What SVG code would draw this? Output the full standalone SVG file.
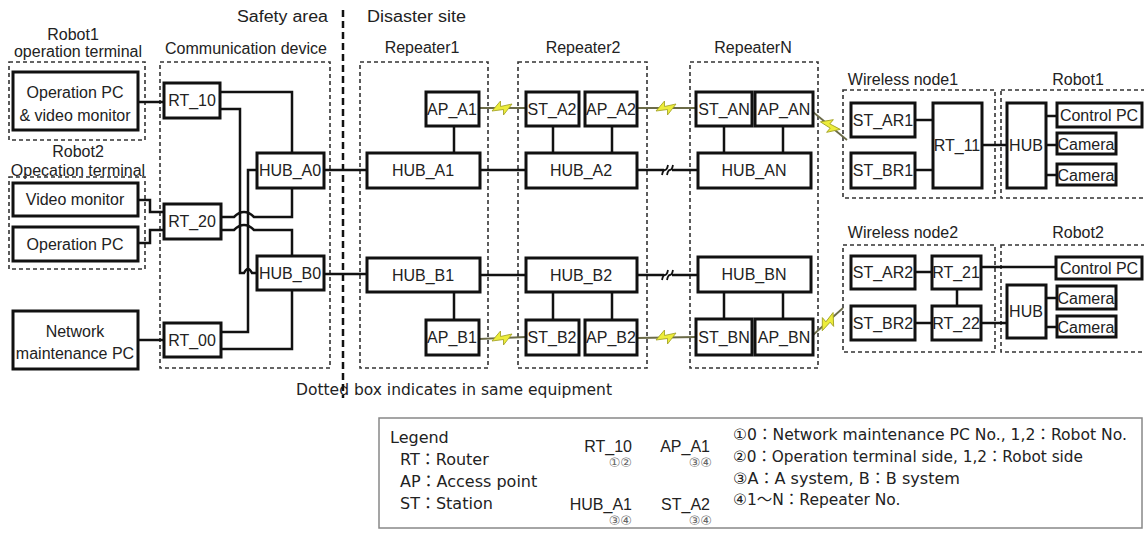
<svg xmlns="http://www.w3.org/2000/svg" xmlns:xlink="http://www.w3.org/1999/xlink" width="1144" height="533" viewBox="0 0 1144 533">
<style>
.box{fill:#fff;stroke:#111;stroke-width:3}
.dot{fill:none;stroke:#333;stroke-width:1.6;stroke-dasharray:4 3}
.w{fill:none;stroke:#111;stroke-width:2.5}
.rf{fill:none;stroke:#6b6b48;stroke-width:1.8}
.t{font-family:"Liberation Sans","Noto Sans CJK JP",sans-serif;font-size:16px;fill:#222}
.d{font-family:"DejaVu Sans","Noto Sans CJK JP",sans-serif;font-size:15.5px;fill:#222}
.c{text-anchor:middle}
.s{font-family:"DejaVu Sans","Noto Sans CJK JP",sans-serif;font-size:13px;fill:#666}
</style>
<defs>
<g id="bolt"><polygon points="-10,3 -1.5,-7 -1.5,-1.5 10,-4 1.5,7 1.5,1.5" fill="#eded3a" stroke="#a6a628" stroke-width="0.9"/></g>
<g id="brk"><rect x="-4" y="-7" width="8" height="14" fill="#fff"/><path d="M-6,5 Q-5,0 -3,0 Q-1,0 0,-5 M-1,5 Q0,0 2,0 Q4,0 5,-5" fill="none" stroke="#111" stroke-width="1.8"/></g>
</defs>
<rect width="1144" height="533" fill="#fff"/>

<!-- area labels -->
<g id="labels" class="t">
<text x="237" y="22" textLength="91" lengthAdjust="spacingAndGlyphs">Safety area</text>
<text x="367" y="22" textLength="99" lengthAdjust="spacingAndGlyphs">Disaster site</text>
<text x="73" y="40" class="c">Robot1</text>
<text x="78" y="57" class="c">operation terminal</text>
<text x="78" y="157" class="c">Robot2</text>
<text x="78" y="176" class="c">Opecation terminal</text>
<text x="246" y="54" class="c">Communication device</text>
<text x="422" y="53" class="c">Repeater1</text>
<text x="583" y="53" class="c">Repeater2</text>
<text x="753" y="53" class="c">RepeaterN</text>
<text x="903" y="85" class="c">Wireless node1</text>
<text x="1078" y="85" class="c">Robot1</text>
<text x="903" y="238" class="c">Wireless node2</text>
<text x="1078" y="238" class="c">Robot2</text>
</g>
<text id="note" class="d" x="296" y="395" textLength="316" lengthAdjust="spacingAndGlyphs">Dotted box indicates in same equipment</text>

<!-- dotted equipment boxes -->
<g id="equipment">
<rect class="dot" x="9" y="62" width="136" height="78"/>
<rect class="dot" x="9" y="177" width="136" height="92"/>
<rect class="dot" x="160" y="62" width="170" height="306"/>
<rect class="dot" x="360" y="62" width="128" height="306"/>
<rect class="dot" x="518" y="62" width="129" height="306"/>
<rect class="dot" x="690" y="62" width="128" height="306"/>
<rect class="dot" x="843" y="90" width="152" height="108"/>
<rect class="dot" x="1001" y="90" width="150" height="108"/>
<rect class="dot" x="843" y="245" width="152" height="107"/>
<rect class="dot" x="1001" y="245" width="150" height="107"/>
<line x1="343" y1="10" x2="343" y2="398" stroke="#111" stroke-width="2.5" stroke-dasharray="7 4"/>
</g>

<!-- connectors -->
<g id="connectors">
<path class="w" d="M138,102 H164"/>
<path class="w" d="M220,92 H292 V153"/>
<path class="w" d="M220,109 H240 V273 H244 Q248,265 252,273 H257"/>
<path class="w" d="M257,170 H248 V332 H221"/>
<path class="w" d="M292,188 V217 H254 Q244,207 234,217 H221"/>
<path class="w" d="M221,230 H234 Q244,220 254,230 H292 V256"/>
<path class="w" d="M292,290 V349 H221"/>
<path class="w" d="M138,340 H164"/>
<path class="w" d="M138,200 H150 V212 H164"/>
<path class="w" d="M138,243 H150 V230 H164"/>
<path class="w" d="M324,170 H367"/>
<path class="w" d="M324,274 H367"/>
<path class="w" d="M480,170 H526"/>
<path class="w" d="M480,275 H526"/>
<path class="w" d="M637,170 H698"/>
<path class="w" d="M637,275 H698"/>
<path class="w" d="M454,126 V153 M553,126 V153 M612,126 V153 M724,126 V153 M783,126 V153"/>
<path class="w" d="M454,292 V320 M553,292 V320 M612,292 V320 M724,292 V319 M783,292 V319"/>
<path class="w" d="M915,120 H933 M915,170 H933 M982,145 H1007 M1046,116 H1057 M1046,145 H1057 M1046,175 H1057"/>
<path class="w" d="M915,272 H932 M915,323 H932 M957,289 V306 M981,267 H1056 M981,323 H1007 M1046,298 H1057 M1046,327 H1057"/>
<use xlink:href="#brk" transform="translate(668,170)"/>
<use xlink:href="#brk" transform="translate(668,275)"/>
<path class="rf" d="M479,108 H526"/>
<path class="rf" d="M637,108 H696"/>
<path class="rf" d="M813,112 L847,140"/>
<path class="rf" d="M479,339 L526,337"/>
<path class="rf" d="M637,338 L696,337"/>
<path class="rf" d="M813,335 L843,308"/>
<use xlink:href="#bolt" transform="translate(502,108)"/>
<use xlink:href="#bolt" transform="translate(666,108)"/>
<use xlink:href="#bolt" transform="translate(830,126) rotate(40)"/>
<use xlink:href="#bolt" transform="translate(502,338)"/>
<use xlink:href="#bolt" transform="translate(666,337)"/>
<use xlink:href="#bolt" transform="translate(828,322) rotate(-40)"/>
</g>

<!-- nodes -->
<g id="opPC1"><rect class="box" x="13" y="72" width="125" height="58"/><text class="t c" x="75" y="98">Operation PC</text><text class="t c" x="75" y="121">&amp; video monitor</text></g>
<g id="videoMonitor"><rect class="box" x="13" y="183" width="125" height="33"/><text class="t c" x="75" y="205">Video monitor</text></g>
<g id="opPC2"><rect class="box" x="13" y="227" width="125" height="34"/><text class="t c" x="75" y="250">Operation PC</text></g>
<g id="netPC"><rect class="box" x="13" y="311" width="125" height="58"/><text class="t c" x="75" y="337">Network</text><text class="t c" x="75" y="359">maintenance PC</text></g>
<g id="RT_10"><rect class="box" x="164" y="83" width="56" height="35"/><text class="t c" x="192" y="106">RT_10</text></g>
<g id="RT_20"><rect class="box" x="164" y="204" width="57" height="35"/><text class="t c" x="192" y="227">RT_20</text></g>
<g id="RT_00"><rect class="box" x="164" y="323" width="57" height="34"/><text class="t c" x="192" y="346">RT_00</text></g>
<g id="HUB_A0"><rect class="box" x="257" y="153" width="67" height="35"/><text class="t c" x="290" y="176">HUB_A0</text></g>
<g id="HUB_B0"><rect class="box" x="257" y="256" width="67" height="34"/><text class="t c" x="290" y="279">HUB_B0</text></g>
<g id="AP_A1"><rect class="box" x="426" y="92" width="53" height="34"/><text class="t c" x="452" y="115">AP_A1</text></g>
<g id="HUB_A1"><rect class="box" x="367" y="153" width="113" height="35"/><text class="t c" x="423" y="176">HUB_A1</text></g>
<g id="ST_A2"><rect class="box" x="526" y="92" width="53" height="34"/><text class="t c" x="552" y="115">ST_A2</text></g>
<g id="AP_A2"><rect class="box" x="585" y="92" width="52" height="34"/><text class="t c" x="611" y="115">AP_A2</text></g>
<g id="HUB_A2"><rect class="box" x="526" y="153" width="111" height="35"/><text class="t c" x="581" y="176">HUB_A2</text></g>
<g id="ST_AN"><rect class="box" x="696" y="92" width="56" height="34"/><text class="t c" x="724" y="115">ST_AN</text></g>
<g id="AP_AN"><rect class="box" x="755" y="92" width="58" height="34"/><text class="t c" x="784" y="115">AP_AN</text></g>
<g id="HUB_AN"><rect class="box" x="698" y="153" width="113" height="35"/><text class="t c" x="754" y="176">HUB_AN</text></g>
<g id="HUB_B1"><rect class="box" x="367" y="258" width="113" height="34"/><text class="t c" x="423" y="281">HUB_B1</text></g>
<g id="AP_B1"><rect class="box" x="426" y="320" width="53" height="35"/><text class="t c" x="452" y="343">AP_B1</text></g>
<g id="HUB_B2"><rect class="box" x="526" y="258" width="111" height="34"/><text class="t c" x="581" y="281">HUB_B2</text></g>
<g id="ST_B2"><rect class="box" x="526" y="320" width="53" height="35"/><text class="t c" x="552" y="343">ST_B2</text></g>
<g id="AP_B2"><rect class="box" x="585" y="320" width="52" height="35"/><text class="t c" x="611" y="343">AP_B2</text></g>
<g id="HUB_BN"><rect class="box" x="698" y="257" width="113" height="35"/><text class="t c" x="754" y="280">HUB_BN</text></g>
<g id="ST_BN"><rect class="box" x="696" y="319" width="56" height="36"/><text class="t c" x="724" y="343">ST_BN</text></g>
<g id="AP_BN"><rect class="box" x="755" y="319" width="58" height="36"/><text class="t c" x="784" y="343">AP_BN</text></g>
<g id="ST_AR1"><rect class="box" x="851" y="103" width="64" height="34"/><text class="t c" x="883" y="126">ST_AR1</text></g>
<g id="ST_BR1"><rect class="box" x="851" y="153" width="64" height="35"/><text class="t c" x="883" y="176">ST_BR1</text></g>
<g id="RT_11"><rect class="box" x="933" y="103" width="49" height="85"/><text class="t c" x="957" y="151">RT_11</text></g>
<g id="HUB_R1"><rect class="box" x="1007" y="103" width="39" height="85"/><text class="t c" x="1026" y="151">HUB</text></g>
<g id="CtrlPC1"><rect class="box" x="1057" y="103" width="85" height="24"/><text class="t c" x="1099" y="121">Control PC</text></g>
<g id="Cam1a"><rect class="box" x="1057" y="133" width="59" height="21"/><text class="t c" x="1086" y="150">Camera</text></g>
<g id="Cam1b"><rect class="box" x="1057" y="164" width="59" height="21"/><text class="t c" x="1086" y="181">Camera</text></g>
<g id="ST_AR2"><rect class="box" x="851" y="256" width="64" height="33"/><text class="t c" x="883" y="278">ST_AR2</text></g>
<g id="ST_BR2"><rect class="box" x="851" y="306" width="64" height="34"/><text class="t c" x="883" y="329">ST_BR2</text></g>
<g id="RT_21"><rect class="box" x="932" y="256" width="49" height="33"/><text class="t c" x="956" y="278">RT_21</text></g>
<g id="RT_22"><rect class="box" x="932" y="306" width="49" height="34"/><text class="t c" x="956" y="329">RT_22</text></g>
<g id="HUB_R2"><rect class="box" x="1007" y="285" width="39" height="53"/><text class="t c" x="1026" y="317">HUB</text></g>
<g id="CtrlPC2"><rect class="box" x="1056" y="257" width="86" height="22"/><text class="t c" x="1099" y="274">Control PC</text></g>
<g id="Cam2a"><rect class="box" x="1057" y="286" width="59" height="23"/><text class="t c" x="1086" y="304">Camera</text></g>
<g id="Cam2b"><rect class="box" x="1057" y="316" width="59" height="21"/><text class="t c" x="1086" y="333">Camera</text></g>

<!-- legend -->
<g id="legend">
<rect x="379" y="418" width="763" height="110" fill="#fff" stroke="#888" stroke-width="1.5"/>
<g class="d" style="font-size:16px">
<text x="390" y="443">Legend</text>
<text x="400" y="465">RT：Router</text>
<text x="400" y="487">AP：Access point</text>
<text x="400" y="509">ST：Station</text>
</g>
<g class="t">
<text x="632" y="452" text-anchor="end">RT_10</text>
<text x="710" y="452" text-anchor="end">AP_A1</text>
<text x="632" y="510" text-anchor="end">HUB_A1</text>
<text x="710" y="510" text-anchor="end">ST_A2</text>
</g>
<g class="s" text-anchor="end">
<text x="632" y="467">①②</text>
<text x="712" y="467">③④</text>
<text x="632" y="525">③④</text>
<text x="712" y="525">③④</text>
</g>
<g class="d">
<text x="733" y="440" textLength="394" lengthAdjust="spacingAndGlyphs">①0：Network maintenance PC No., 1,2：Robot No.</text>
<text x="733" y="462" textLength="350" lengthAdjust="spacingAndGlyphs">②0：Operation terminal side, 1,2：Robot side</text>
<text x="733" y="484" textLength="227" lengthAdjust="spacingAndGlyphs">③A：A system, B：B  system</text>
<text x="733" y="505">④1～N：Repeater No.</text>
</g>
</g>
</svg>
